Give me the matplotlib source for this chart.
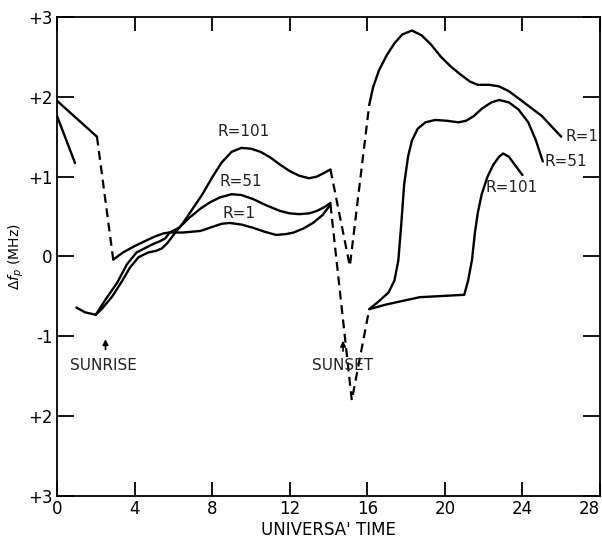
import matplotlib.pyplot as plt

# early-morning pieces (before sunrise)
early_a_x = [0, 2.06]
early_a_y = [1.95, 1.5]
early_b_x = [0, 0.93]
early_b_y = [1.76, 1.17]
sunrise_dash_x = [2.06, 2.9]
sunrise_dash_y = [1.5, -0.04]

# daytime curves
r1_day_x = [2.9, 3.4, 4.0, 4.6, 5.05, 5.5, 5.8, 6.5, 7.4, 8.0, 8.5, 8.9, 9.5, 10.1, 10.7, 11.3,
            11.8, 12.2, 12.7, 13.2, 13.7, 14.1]
r1_day_y = [-0.04, 0.05, 0.13, 0.2, 0.25, 0.29, 0.3, 0.3, 0.32, 0.37, 0.41, 0.42, 0.4, 0.36, 0.31, 0.27,
            0.28, 0.3, 0.35, 0.42, 0.52, 0.65]

r51_day_x = [1.0, 1.45, 2.0, 2.5, 3.1, 3.6, 4.1, 4.9, 5.3, 5.6, 5.8, 6.3, 6.8, 7.4, 7.9, 8.4, 9.0, 9.5,
             10.1, 10.8, 11.5, 12.0, 12.5, 13.0, 13.4, 13.8, 14.1]
r51_day_y = [-0.64, -0.7, -0.73, -0.54, -0.33, -0.1, 0.05, 0.15, 0.19, 0.23, 0.3, 0.36, 0.48, 0.6, 0.68,
             0.74, 0.78, 0.77, 0.72, 0.64, 0.57, 0.54, 0.53, 0.54, 0.57, 0.62, 0.67]

r101_day_x = [2.0, 2.3, 2.85, 3.35, 3.76, 4.2, 4.7, 5.1, 5.4, 5.7, 6.1, 6.5, 7.0, 7.5, 8.0, 8.5, 9.0, 9.5,
              10.0, 10.5, 11.0, 11.5, 12.0, 12.5, 13.0, 13.4, 13.8, 14.1]
r101_day_y = [-0.73, -0.66, -0.5, -0.31, -0.14, -0.01, 0.05, 0.07, 0.1, 0.17, 0.3, 0.42, 0.6, 0.78, 0.99,
              1.18, 1.31, 1.36, 1.35, 1.31, 1.24, 1.15, 1.07, 1.01, 0.98, 1.0, 1.05, 1.09]

# sunset transitions (dashed)
sunset_a_x = [14.1, 15.1, 16.1]
sunset_a_y = [1.09, -0.12, 1.9]
sunset_b_x = [14.1, 15.2, 16.1]
sunset_b_y = [0.65, -1.8, -0.66]

# evening curves
r1_eve_x = [16.1, 16.3, 16.6, 17.0, 17.4, 17.8, 18.3, 18.8, 19.3, 19.8, 20.3, 20.8, 21.3, 21.7, 22.3,
            22.8, 23.3, 23.8, 24.4, 25.0, 25.5, 26.0]
r1_eve_y = [1.9, 2.12, 2.33, 2.52, 2.67, 2.78, 2.83, 2.77, 2.65, 2.5, 2.38, 2.28, 2.19, 2.15, 2.15,
            2.13, 2.07, 1.98, 1.87, 1.76, 1.63, 1.5]

r51_eve_x = [16.1, 16.6, 17.1, 17.4, 17.6, 17.75, 17.9, 18.1, 18.3, 18.6, 19.0, 19.5, 20.1, 20.7, 21.1,
             21.5, 21.9, 22.4, 22.8, 23.3, 23.8, 24.3, 24.7, 25.05]
r51_eve_y = [-0.66, -0.56, -0.45, -0.3, -0.05, 0.4, 0.9, 1.25, 1.45, 1.6, 1.68, 1.71, 1.7, 1.68, 1.7,
             1.76, 1.85, 1.93, 1.96, 1.93, 1.84, 1.68, 1.45, 1.19]

r101_eve_x = [16.1, 17.0, 18.7, 21.0, 21.2, 21.4, 21.55, 21.7, 21.9, 22.2, 22.5, 22.8, 23.0, 23.3, 23.6, 24.0]
r101_eve_y = [-0.66, -0.6, -0.51, -0.48, -0.3, -0.04, 0.3, 0.55, 0.78, 1.0, 1.15, 1.25, 1.29, 1.25, 1.15, 1.02]

x_ticks = [0, 4, 8, 12, 16, 20, 24, 28]
y_ticks = [3, 2, 1, 0, -1, -2, -3]
y_tick_labels = ['+3', '+2', '+1', '0', '-1', '+2', '+3']

fig = plt.figure(figsize=(6.02, 5.45), dpi=100)
ax = fig.add_axes([0.0947, 0.0899, 0.902, 0.879])

solid = dict(color='black', lw=1.7, solid_joinstyle='round', solid_capstyle='round')
dashed = dict(color='black', lw=1.6, ls=(0, (4, 2.5)))

ax.plot(early_a_x, early_a_y, **solid)
ax.plot(early_b_x, early_b_y, **solid)
ax.plot(sunrise_dash_x, sunrise_dash_y, **dashed)
ax.plot(r1_day_x, r1_day_y, **solid)
ax.plot(r51_day_x, r51_day_y, **solid)
ax.plot(r101_day_x, r101_day_y, **solid)
ax.plot(sunset_a_x, sunset_a_y, **dashed)
ax.plot(sunset_b_x, sunset_b_y, **dashed)
ax.plot(r1_eve_x, r1_eve_y, **solid)
ax.plot(r51_eve_x, r51_eve_y, **solid)
ax.plot(r101_eve_x, r101_eve_y, **solid)

# curve labels
lab = dict(fontsize=11, color='#222222')
ax.text(9.6, 1.56, 'R=101', ha='center', va='center', **lab)
ax.text(9.5, 0.94, 'R=51', ha='center', va='center', **lab)
ax.text(9.4, 0.54, 'R=1', ha='center', va='center', **lab)
ax.text(26.2, 1.5, 'R=1', ha='left', va='center', **lab)
ax.text(25.15, 1.19, 'R=51', ha='left', va='center', **lab)
ax.text(23.45, 0.86, 'R=101', ha='center', va='center', **lab)

# sunrise / sunset markers
ax.annotate('', xy=(2.5, -1.0), xytext=(2.5, -1.2),
            arrowprops=dict(arrowstyle='-|>', color='black', lw=1.2, mutation_scale=8))
ax.text(2.4, -1.36, 'SUNRISE', ha='center', va='center', **lab)
ax.annotate('', xy=(14.75, -1.02), xytext=(14.75, -1.22),
            arrowprops=dict(arrowstyle='-|>', color='black', lw=1.2, mutation_scale=8))
ax.text(14.75, -1.36, 'SUNSET', ha='center', va='center', **lab)

ax.set_xlim(0, 28)
ax.set_ylim(-3, 3)
ax.set_xticks(x_ticks)
ax.set_xticklabels([str(t) for t in x_ticks], fontsize=12)
ax.get_xticklabels()[-1].set_horizontalalignment('right')
ax.set_yticks(y_ticks)
ax.set_yticklabels(y_tick_labels, fontsize=12)
ax.tick_params(direction='in', length=10, width=1.3, top=True, right=True, pad=3)
ax.tick_params(axis='y', length=12)

for s in ax.spines.values():
    s.set_linewidth(1.3)

ax.set_xlabel("UNIVERSA' TIME", fontsize=12, labelpad=2)
ax.set_ylabel(r'$\Delta f_p$ (MHz)', fontsize=10, labelpad=2)

fig.savefig('out.png', dpi=100)
